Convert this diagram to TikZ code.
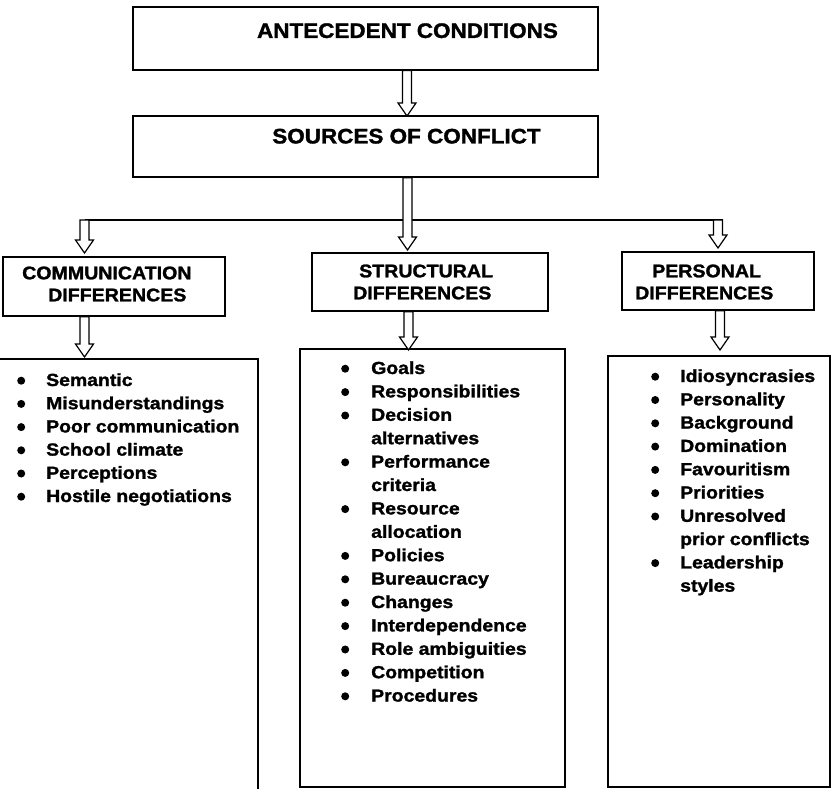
\documentclass[tikz,border=0pt]{standalone}
\usepackage{fontspec}
\setmainfont{Liberation Sans}[FakeStretch=1.07, BoldFeatures={FakeBold=1.5}]
\newfontfamily\listfont{Liberation Sans}[FakeStretch=1.11, BoldFeatures={FakeBold=1.5}]
\usetikzlibrary{calc}

\tikzset{
  frame/.style={draw, line width=1.3pt, inner sep=0pt, minimum width=#1},
  heading/.style={font=\fontsize{21}{25}\selectfont\bfseries, inner sep=0pt},
  boxtext/.style={font=\fontsize{18.3}{22}\selectfont\bfseries, align=left, inner sep=0pt, anchor=west},
  listtext/.style={anchor=base west, inner sep=0pt},
  hollow/.style={draw, line width=1.2pt, fill=white, line join=miter},
  joinline/.style={draw, line width=1.3pt}
}

% hollow block arrow from #1 (top of shaft) down to #2 (tip)
\newcommand\blockarrow[2]{%
  \path[hollow] let \p1=(#1), \p2=(#2) in
    (\x1-4.5pt,\y1) -- (\x1-4.5pt,\y2+13pt) -- (\x1-9pt,\y2+13pt) -- (\x1,\y2)
    -- (\x1+9pt,\y2+13pt) -- (\x1+4.5pt,\y2+13pt) -- (\x1+4.5pt,\y1) -- cycle;}

% one bulleted entry and one continuation line
\newcommand\bigbullet{\tikz[baseline=-5.3pt]{\fill (0pt,0pt) circle (4pt);}}
\newcommand\bul[2]{\makebox[#1][l]{\bigbullet}#2}
\newcommand\cont[2]{\hspace*{#1}#2}

\begin{document}
\begin{tikzpicture}[x=1pt, y=-1pt]
\useasboundingbox (0,0) rectangle (832,789);

% ---- frames ----
\node[frame=465pt, minimum height=63pt] (ante) at (365.5,38.5) {};
\node[frame=465pt, minimum height=61pt] (sources) at (365.5,146.5) {};
\node[frame=222pt, minimum height=59pt] (comm) at (114,286.5) {};
\node[frame=236pt, minimum height=58pt] (struct) at (430,282) {};
\node[frame=192pt, minimum height=58pt] (pers) at (718,281) {};
\node[frame=261pt, minimum height=440pt] (commlist) at (127.5,579) {};
\node[frame=265pt, minimum height=438pt] (structlist) at (432.5,568) {};
\node[frame=222pt, minimum height=431pt] (perslist) at (719,571.5) {};

% ---- headings ----
\node[heading] (antetxt) at (407.5,30.7) {ANTECEDENT CONDITIONS};
\node[heading] (srctxt) at (406.5,136.2) {SOURCES OF CONFLICT};
\node[boxtext] (commtxt) at (22,284) {COMMUNICATION\\\hspace*{26pt}DIFFERENCES};
\node[boxtext] (structtxt) at (353,282) {\hspace*{6pt}STRUCTURAL\\DIFFERENCES};
\node[boxtext] (perstxt) at (635,282) {\hspace*{17pt}PERSONAL\\DIFFERENCES};

% ---- branching line and arrows ----
\coordinate (splitL) at (84.5,220);
\coordinate (splitR) at (718,220);
\draw[joinline] (84.5,220) -- (723,220);

\blockarrow{407,0 |- ante.south}{407,116}
\blockarrow{407.5,0 |- sources.south}{407.5,250}
\blockarrow{splitL}{84.5,253}
\blockarrow{splitR}{718,248}
\blockarrow{84.5,0 |- comm.south}{84.5,357}
\blockarrow{408.5,0 |- struct.south}{408.5,350}
\blockarrow{720,0 |- pers.south}{720,350}

% ---- lists ----
\node[listtext, font=\fontsize{17.5}{23.2}\selectfont\listfont\bfseries] (commitems) at (17,386)
 {\begin{tabular}[t]{@{}l@{}}
  \bul{29pt}{Semantic}\\
  \bul{29pt}{Misunderstandings}\\
  \bul{29pt}{Poor communication}\\
  \bul{29pt}{School climate}\\
  \bul{29pt}{Perceptions}\\
  \bul{29pt}{Hostile negotiations}
  \end{tabular}};

\node[listtext, font=\fontsize{17.5}{23.4}\selectfont\listfont\bfseries] (structitems) at (341,374)
 {\begin{tabular}[t]{@{}l@{}}
  \bul{30pt}{Goals}\\
  \bul{30pt}{Responsibilities}\\
  \bul{30pt}{Decision}\\
  \cont{30pt}{alternatives}\\
  \bul{30pt}{Performance}\\
  \cont{30pt}{criteria}\\
  \bul{30pt}{Resource}\\
  \cont{30pt}{allocation}\\
  \bul{30pt}{Policies}\\
  \bul{30pt}{Bureaucracy}\\
  \bul{30pt}{Changes}\\
  \bul{30pt}{Interdependence}\\
  \bul{30pt}{Role ambiguities}\\
  \bul{30pt}{Competition}\\
  \bul{30pt}{Procedures}
  \end{tabular}};

\node[listtext, font=\fontsize{17.5}{23.3}\selectfont\listfont\bfseries] (persitems) at (651,382)
 {\begin{tabular}[t]{@{}l@{}}
  \bul{29pt}{Idiosyncrasies}\\
  \bul{29pt}{Personality}\\
  \bul{29pt}{Background}\\
  \bul{29pt}{Domination}\\
  \bul{29pt}{Favouritism}\\
  \bul{29pt}{Priorities}\\
  \bul{29pt}{Unresolved}\\
  \cont{29pt}{prior conflicts}\\
  \bul{29pt}{Leadership}\\
  \cont{29pt}{styles}
  \end{tabular}};
\end{tikzpicture}
\end{document}
